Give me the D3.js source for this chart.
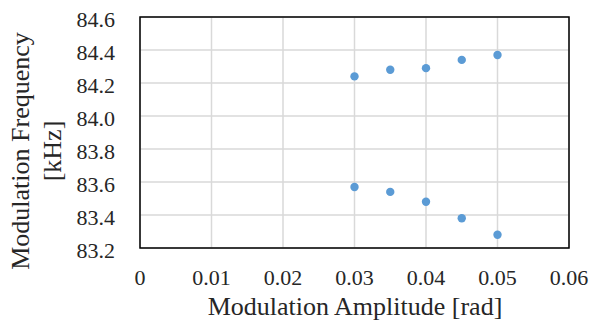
<!DOCTYPE html>
<html>
<head>
<meta charset="utf-8">
<script src="https://cdn.jsdelivr.net/npm/d3@7"></script>
<style>
body { margin: 0; background: #fff; }
</style>
</head>
<body>
<script>
var width = 592;
var height = 324;

// data
var amplitude = [0.03, 0.035, 0.04, 0.045, 0.05];
var upperFreq = [84.24, 84.28, 84.29, 84.34, 84.37];
var lowerFreq = [83.57, 83.54, 83.48, 83.38, 83.28];
var xTicks = [0, 0.01, 0.02, 0.03, 0.04, 0.05, 0.06];
var yTicks = [83.2, 83.4, 83.6, 83.8, 84.0, 84.2, 84.4, 84.6];

var margin = {left: 140, right: 23, top: 17, bottom: 76};
var font = "Tinos, 'Liberation Serif', 'DejaVu Serif', serif";
var textColor = "#262626";

var svg = d3.select("body")
    .append("svg")
    .attr("width", width)
    .attr("height", height)
    .attr("font-family", font);

var x = d3.scaleLinear()
    .domain([0, 0.06])
    .range([margin.left, width - margin.right]);

var y = d3.scaleLinear()
    .domain([83.2, 84.6])
    .range([height - margin.bottom, margin.top]);

// grid
svg.append("g")
    .selectAll("line")
    .data(xTicks)
    .enter()
    .append("line")
    .attr("x1", function(d) { return x(d); })
    .attr("x2", function(d) { return x(d); })
    .attr("y1", y(83.2))
    .attr("y2", y(84.6))
    .attr("stroke", "#d9d9d9")
    .attr("stroke-width", 1.5);

svg.append("g")
    .selectAll("line")
    .data(yTicks)
    .enter()
    .append("line")
    .attr("x1", x(0))
    .attr("x2", x(0.06))
    .attr("y1", function(d) { return y(d); })
    .attr("y2", function(d) { return y(d); })
    .attr("stroke", "#d9d9d9")
    .attr("stroke-width", 1.5);

// frame
svg.append("rect")
    .attr("x", x(0))
    .attr("y", y(84.6))
    .attr("width", x(0.06) - x(0))
    .attr("height", y(83.2) - y(84.6))
    .attr("fill", "none")
    .attr("stroke", "#000")
    .attr("stroke-width", 1.5);

// tick labels
svg.append("g")
    .selectAll("text")
    .data(yTicks)
    .enter()
    .append("text")
    .attr("x", 115)
    .attr("y", function(d) { return y(d) + 10; })
    .attr("text-anchor", "end")
    .style("font-family", font)
    .style("font-size", "22px")
    .attr("fill", textColor)
    .text(function(d) { return d3.format(".1f")(d); });

svg.append("g")
    .selectAll("text")
    .data(xTicks)
    .enter()
    .append("text")
    .attr("x", function(d) { return x(d); })
    .attr("y", 285)
    .attr("text-anchor", "middle")
    .style("font-family", font)
    .style("font-size", "22px")
    .attr("fill", textColor)
    .text(function(d) { return d === 0 ? "0" : d3.format(".2f")(d); });

// points
var all = amplitude.map(function(a, i) { return [a, upperFreq[i]]; })
    .concat(amplitude.map(function(a, i) { return [a, lowerFreq[i]]; }));

svg.append("g")
    .selectAll("circle")
    .data(all)
    .enter()
    .append("circle")
    .attr("cx", function(d) { return x(d[0]); })
    .attr("cy", function(d) { return y(d[1]); })
    .attr("r", 4.2)
    .attr("fill", "#5b9bd5");

// axis titles
svg.append("text")
    .attr("x", 355)
    .attr("y", 315)
    .attr("text-anchor", "middle")
    .style("font-family", font)
    .style("font-size", "26px")
    .attr("fill", textColor)
    .text("Modulation Amplitude [rad]");

var yt = svg.append("text")
    .attr("transform", "translate(0,151) rotate(-90)")
    .attr("text-anchor", "middle")
    .style("font-family", font)
    .style("font-size", "26px")
    .attr("fill", textColor);
yt.append("tspan").attr("x", 0).attr("y", 29).text("Modulation Frequency");
yt.append("tspan").attr("x", 0).attr("y", 61).text("[kHz]");
</script>
</body>
</html>
